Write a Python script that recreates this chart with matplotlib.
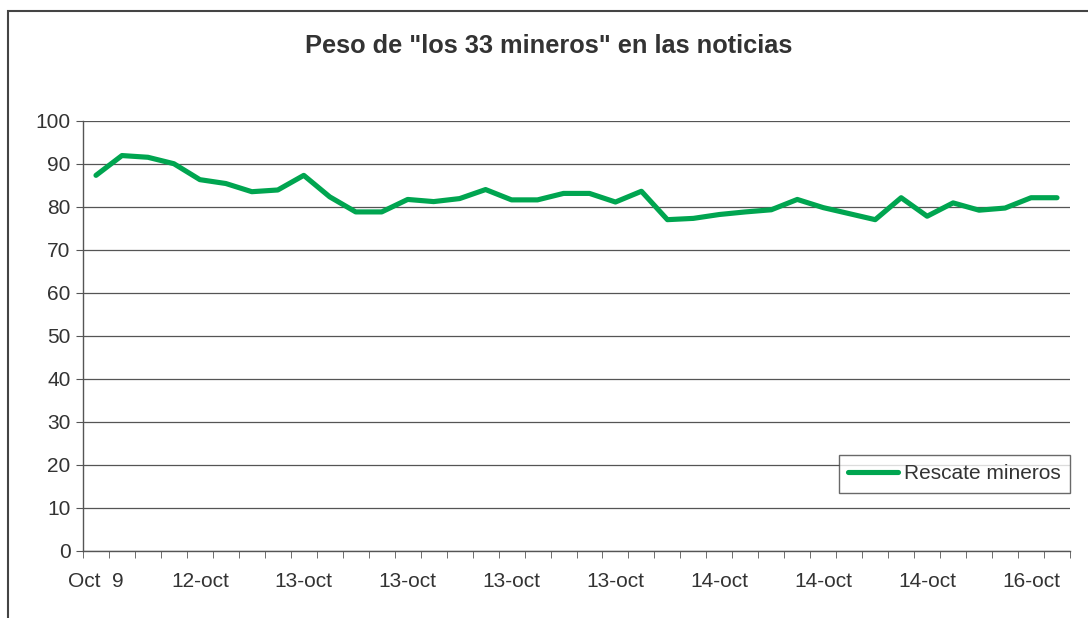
import numpy as np
import matplotlib
matplotlib.use("Agg")
import matplotlib.pyplot as plt
from matplotlib.patches import Rectangle
from matplotlib.ticker import FixedLocator, MultipleLocator

# values (38 samples)
rescate = [87.3, 91.9, 91.5, 90.0, 86.3, 85.4, 83.5, 83.9, 87.3, 82.3,
           78.8, 78.8, 81.7, 81.2, 81.9, 84.0, 81.6, 81.6, 83.1, 83.1,
           81.1, 83.6, 77.0, 77.3, 78.2, 78.8, 79.3, 81.7, 79.8, 78.4,
           77.0, 82.1, 77.8, 80.9, 79.2, 79.7, 82.1, 82.1]
xlabels = ["Oct  9", "12-oct", "13-oct", "13-oct", "13-oct", "13-oct",
           "14-oct", "14-oct", "14-oct", "16-oct"]
label_step = 4
series_name = "Rescate mineros"
title = 'Peso de "los 33 mineros" en las noticias'

plt.rcParams['font.family'] = ['Liberation Sans', 'DejaVu Sans']
txt = '#333333'
grid = '#555555'

W, H = 1088, 618
fig = plt.figure(figsize=(W / 100, H / 100), dpi=100)

# outer chart frame (runs off the right/bottom edges like the original)
fig.patches.append(Rectangle((8 / W, -0.1), 1.2, 1 - 11 / H + 0.1,
                             transform=fig.transFigure, fill=False,
                             edgecolor='#444444', lw=1.5))

ax = fig.add_axes([83 / W, 1 - 551 / H, (1070 - 83) / W, (551 - 120.7) / H])

n = len(rescate)
x = np.arange(n)
ax.plot(x, rescate, color='#00A550', lw=3.7, solid_capstyle='round',
        solid_joinstyle='round', label=series_name, zorder=3)

ax.set_xlim(-0.5, n - 0.5)
ax.set_ylim(0, 100)
ax.yaxis.set_major_locator(MultipleLocator(10))
ax.grid(axis='y', color=grid, lw=0.9)
ax.set_axisbelow(True)

ax.set_xticks(list(range(0, n, label_step)))
ax.set_xticklabels(xlabels)
ax.xaxis.set_minor_locator(FixedLocator(np.arange(-0.5, n, 1)))
ax.tick_params(axis='x', which='major', length=0, pad=15, labelsize=15, labelcolor=txt)
ax.tick_params(axis='x', which='minor', length=5, direction='out', color=grid)
ax.tick_params(axis='y', length=5, direction='out', color=grid, labelsize=15,
               labelcolor=txt, pad=4)

for s in ['top', 'right']:
    ax.spines[s].set_visible(False)
for s in ['left', 'bottom']:
    ax.spines[s].set_color(grid)
    ax.spines[s].set_linewidth(1.0)

fig.text(549 / W, 1 - 46 / H, title, ha='center', va='center',
         fontsize=18.3, fontweight='bold', color=txt)

leg = ax.legend(loc='upper left', bbox_to_anchor=(839 / W, 1 - 455 / H),
                bbox_transform=fig.transFigure, fontsize=15, frameon=True,
                fancybox=False, handlelength=2.4, handletextpad=0.25,
                borderpad=0.45, borderaxespad=0)
leg.get_frame().set_edgecolor('#444444')
leg.get_frame().set_linewidth(1.0)
for t in leg.get_texts():
    t.set_color(txt)

fig.savefig('out.png', dpi=100)
